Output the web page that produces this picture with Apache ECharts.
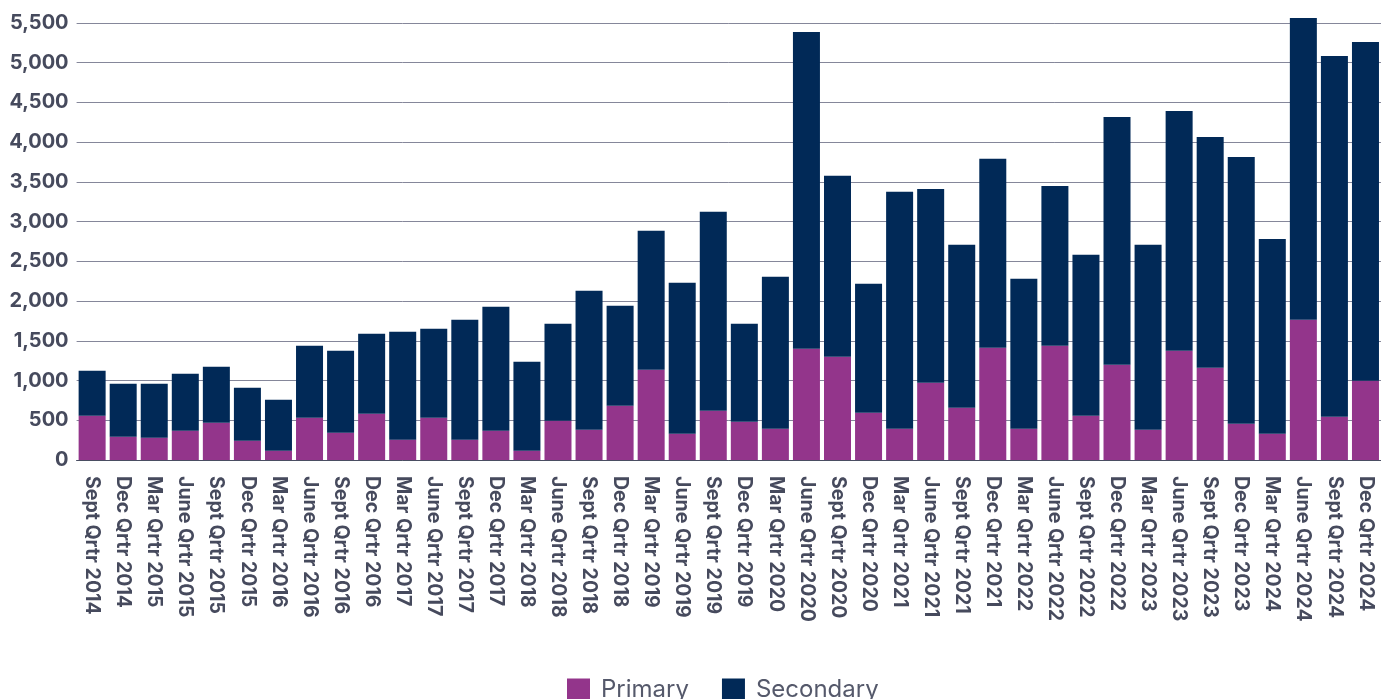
<!DOCTYPE html>
<html>
<head>
<meta charset="utf-8">
<title>Primary and Secondary by Quarter</title>
<script src="https://cdn.jsdelivr.net/npm/echarts@6/dist/echarts.min.js"></script>
<style>
  html, body { margin: 0; padding: 0; background: #ffffff; }
  #chart { width: 1381px; height: 699px; }
</style>
</head>
<body>
<div id="chart"></div>
<script>
// Quarter labels on the category axis
const quarters = [
  'Sept Qrtr 2014', 'Dec Qrtr 2014',
  'Mar Qrtr 2015', 'June Qrtr 2015', 'Sept Qrtr 2015', 'Dec Qrtr 2015',
  'Mar Qrtr 2016', 'June Qrtr 2016', 'Sept Qrtr 2016', 'Dec Qrtr 2016',
  'Mar Qrtr 2017', 'June Qrtr 2017', 'Sept Qrtr 2017', 'Dec Qrtr 2017',
  'Mar Qrtr 2018', 'June Qrtr 2018', 'Sept Qrtr 2018', 'Dec Qrtr 2018',
  'Mar Qrtr 2019', 'June Qrtr 2019', 'Sept Qrtr 2019', 'Dec Qrtr 2019',
  'Mar Qrtr 2020', 'June Qrtr 2020', 'Sept Qrtr 2020', 'Dec Qrtr 2020',
  'Mar Qrtr 2021', 'June Qrtr 2021', 'Sept Qrtr 2021', 'Dec Qrtr 2021',
  'Mar Qrtr 2022', 'June Qrtr 2022', 'Sept Qrtr 2022', 'Dec Qrtr 2022',
  'Mar Qrtr 2023', 'June Qrtr 2023', 'Sept Qrtr 2023', 'Dec Qrtr 2023',
  'Mar Qrtr 2024', 'June Qrtr 2024', 'Sept Qrtr 2024', 'Dec Qrtr 2024'
];

// Primary (bottom segment of each stack)
const primary = [
  558, 293,
  281, 369, 470, 243,
  117, 532, 344, 583,
  256, 532, 256, 369,
  117, 495, 381, 683,
  1136, 331, 620, 482,
  394, 1400, 1300, 595,
  394, 973, 658, 1413,
  394, 1438, 558, 1199,
  381, 1375, 1161, 457,
  331, 1765, 545, 998
];

// Secondary (upper segment of each stack)
const secondary = [
  565, 667,
  679, 717, 704, 667,
  642, 906, 1031, 1006,
  1358, 1120, 1509, 1559,
  1120, 1220, 1749, 1258,
  1748, 1899, 2503, 1233,
  1912, 3987, 2276, 1623,
  2981, 2439, 2050, 2377,
  1886, 2012, 2024, 3119,
  2327, 3018, 2905, 3358,
  2452, 3798, 4540, 4263
];

// Value axis range and step
const yMin = 0;
const yMax = 5500;
const yStep = 500;

const labelColor = '#464a5d';
const fontFamily = 'Inter, "Noto Sans", "DejaVu Sans", sans-serif';

const chart = echarts.init(document.getElementById('chart'), null, { renderer: 'canvas' });

chart.setOption({
  animation: false,
  backgroundColor: '#ffffff',
  grid: {
    left: 76.6,
    top: 23,
    width: 1316,
    height: 437,
    containLabel: false
  },
  legend: {
    left: 567,
    top: 678,
    padding: 0,
    itemWidth: 23,
    itemHeight: 23,
    itemGap: 33,
    icon: 'rect',
    textStyle: {
      fontFamily: fontFamily,
      fontSize: 24,
      fontWeight: 400,
      color: '#55596b',
      padding: [0, 0, 0, 6]
    },
    data: ['Primary', 'Secondary']
  },
  xAxis: {
    type: 'category',
    data: quarters,
    axisLine: { show: true, lineStyle: { color: '#4a4e62', width: 1 } },
    axisTick: { show: false },
    axisLabel: {
      interval: 0,
      rotate: -90,
      margin: 16,
      fontFamily: fontFamily,
      fontSize: 19.5,
      fontWeight: 'bold',
      color: labelColor
    },
    splitLine: { show: false }
  },
  yAxis: {
    type: 'value',
    min: yMin,
    max: yMax,
    interval: yStep,
    axisLine: { show: false },
    axisTick: { show: false },
    axisLabel: {
      margin: 8,
      fontFamily: fontFamily,
      fontSize: 20,
      fontWeight: 'bold',
      color: labelColor,
      formatter: v => v.toLocaleString('en-US')
    },
    splitLine: { show: true, lineStyle: { color: '#85879a', width: 1 } }
  },
  series: [
    {
      name: 'Primary',
      type: 'bar',
      stack: 'total',
      barWidth: 27,
      clip: false,
      itemStyle: { color: '#93358b' },
      data: primary
    },
    {
      name: 'Secondary',
      type: 'bar',
      stack: 'total',
      barWidth: 27,
      clip: false,
      itemStyle: { color: '#012957' },
      data: secondary
    }
  ]
});
</script>
</body>
</html>
